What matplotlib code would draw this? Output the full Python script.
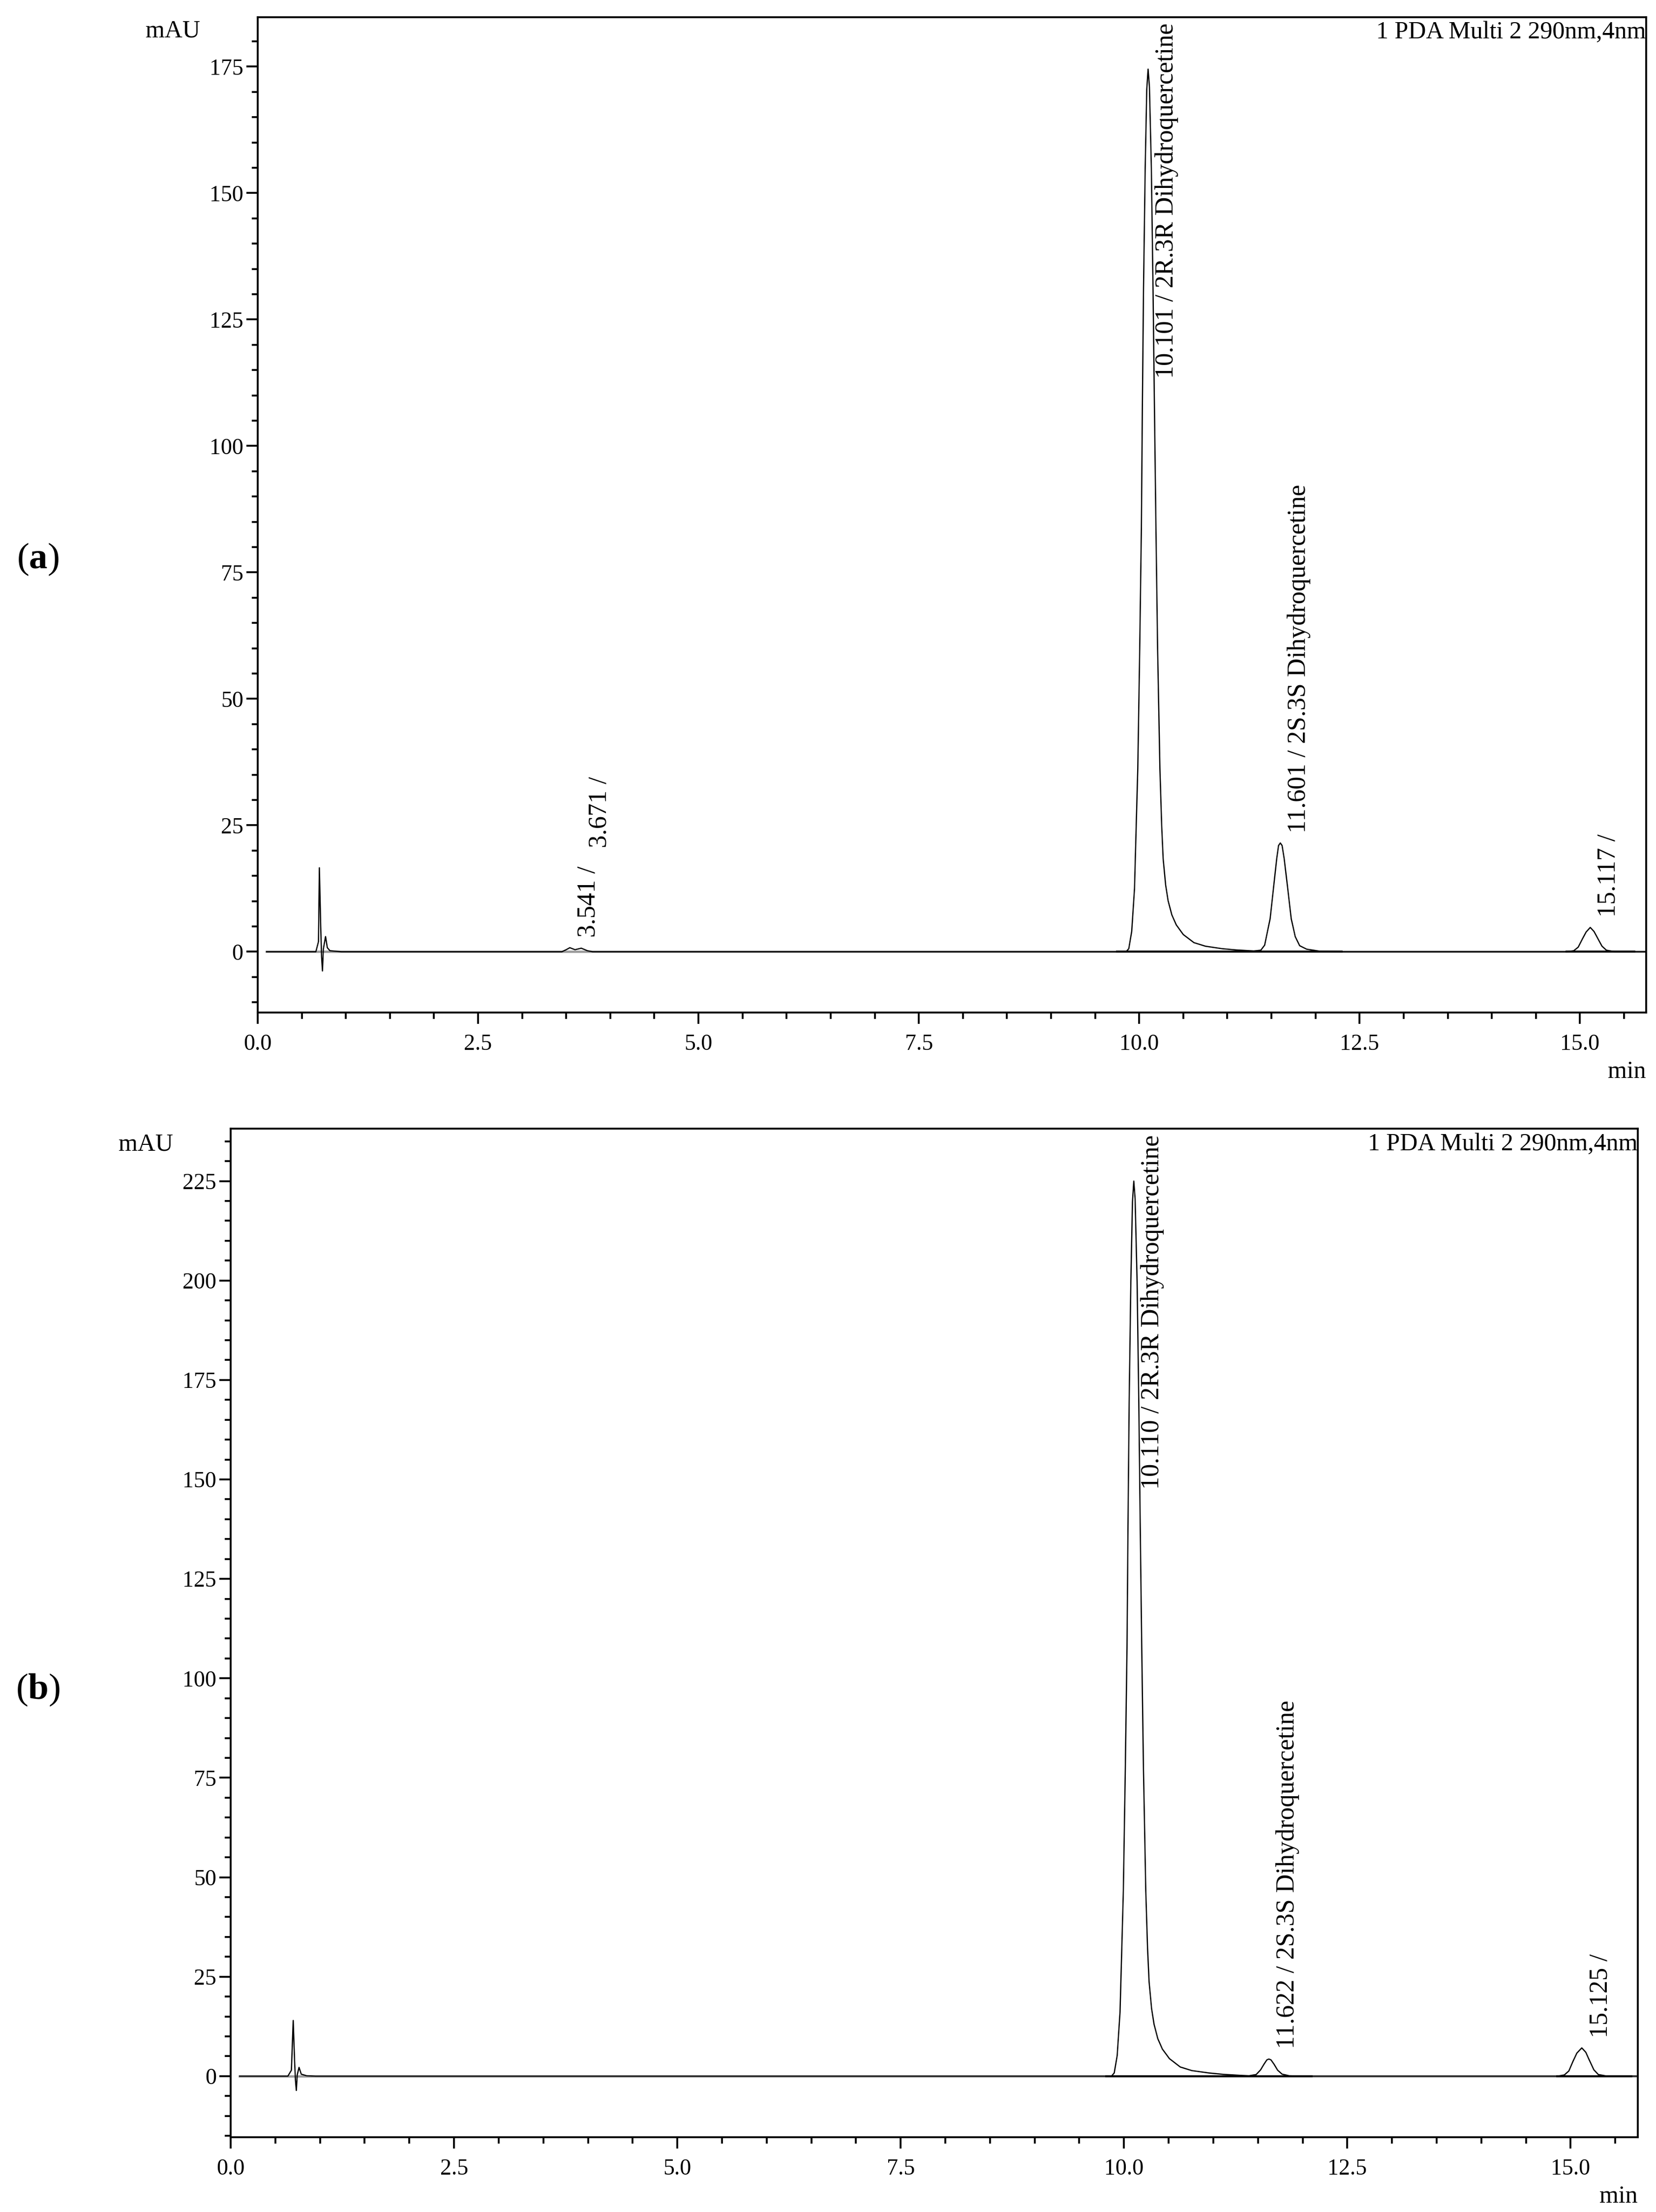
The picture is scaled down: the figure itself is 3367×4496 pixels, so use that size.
import matplotlib.pyplot as plt
from matplotlib.ticker import MultipleLocator

plt.rcParams["font.family"] = ["Liberation Serif", "DejaVu Serif"]
plt.rcParams["mathtext.fontset"] = "custom"
plt.rcParams["mathtext.rm"] = "Liberation Serif"
plt.rcParams["mathtext.bf"] = "Liberation Serif:bold"

# chromatogram (a): time [min], signal [mAU]
time_a = [0.10, 0.66, 0.69, 0.70, 0.715, 0.725, 0.735, 0.745, 0.77, 0.79, 0.82, 0.95,
          3.45, 3.50, 3.541, 3.60, 3.671, 3.74, 3.80,
          9.75, 9.851, 9.882, 9.915, 9.947, 9.984, 10.006, 10.025, 10.036, 10.049, 10.068,
          10.086, 10.101, 10.116, 10.138, 10.157, 10.173, 10.190, 10.209, 10.235, 10.255,
          10.272, 10.300, 10.328, 10.370, 10.421, 10.500, 10.621, 10.750, 10.941, 11.10,
          11.30,
          11.38, 11.423, 11.485, 11.523, 11.560, 11.581, 11.601, 11.621, 11.645, 11.685,
          11.725, 11.77, 11.82, 11.90, 12.05, 12.30,
          14.85, 14.93, 14.98, 15.03, 15.07, 15.117, 15.16, 15.20, 15.25, 15.30, 15.40, 15.75]
mau_a = [0.0, 0.0, 2.0, 16.6, 5.0, -1.0, -3.8, 0.5, 3.0, 0.8, 0.2, 0.0,
         0.0, 0.4, 0.8, 0.4, 0.7, 0.2, 0.0,
         0.0, 0.0, 0.6, 4.0, 12.5, 36.2, 59.9, 83.7, 107.4, 131.2, 154.9,
         170.5, 174.5, 171.0, 154.9, 131.2, 107.4, 83.7, 59.9, 36.2, 25.0,
         18.4, 13.2, 10.1, 7.3, 5.3, 3.4, 1.8, 1.1, 0.6, 0.35,
         0.15,
         0.3, 1.3, 6.5, 12.5, 18.4, 21.0, 21.5, 21.0, 18.4, 12.5,
         6.5, 3.0, 1.2, 0.5, 0.1, 0.0,
         0.0, 0.2, 0.9, 2.6, 3.9, 4.8, 4.0, 2.7, 1.1, 0.3, 0.0, 0.0]

# chromatogram (b)
time_b = [0.10, 0.64, 0.68, 0.70, 0.715, 0.725, 0.735, 0.745, 0.765, 0.79, 0.85, 0.95,
          9.80, 9.860, 9.891, 9.924, 9.956, 9.993, 10.015, 10.034, 10.045, 10.058, 10.077,
          10.095, 10.110, 10.125, 10.147, 10.166, 10.182, 10.199, 10.218, 10.244, 10.264,
          10.281, 10.309, 10.337, 10.379, 10.430, 10.509, 10.630, 10.759, 10.950, 11.11,
          11.30,
          11.40, 11.48, 11.53, 11.57, 11.60, 11.622, 11.645, 11.68, 11.72, 11.77, 11.85, 12.0,
          14.85, 14.93, 14.98, 15.03, 15.07, 15.125, 15.17, 15.21, 15.26, 15.31, 15.40, 15.75]
mau_b = [0.0, 0.0, 1.5, 14.0, 4.0, -1.0, -3.6, 0.3, 2.2, 0.5, 0.1, 0.0,
         0.0, 0.0, 0.8, 5.2, 16.1, 46.7, 77.2, 107.9, 138.5, 169.2, 199.7,
         219.8, 225.0, 220.5, 199.7, 169.2, 138.5, 107.9, 77.2, 46.7, 32.2,
         23.7, 17.0, 13.0, 9.4, 6.8, 4.4, 2.3, 1.4, 0.8, 0.45,
         0.2,
         0.1, 0.4, 1.6, 3.1, 4.1, 4.3, 4.1, 3.0, 1.5, 0.5, 0.1, 0.0,
         0.0, 0.3, 1.3, 3.9, 5.8, 7.1, 6.0, 4.0, 1.6, 0.4, 0.05, 0.0]

# integrated peaks
rt_a = [3.541, 3.671, 10.101, 11.601, 15.117]
height_a = [0.8, 0.7, 174.5, 21.5, 4.8]
name_a = ["", "", "2R.3R Dihydroquercetine", "2S.3S Dihydroquercetine", ""]

rt_b = [10.110, 11.622, 15.125]
height_b = [225.0, 4.3, 7.1]
name_b = ["2R.3R Dihydroquercetine", "2S.3S Dihydroquercetine", ""]

# integration baselines (start, end) [min]
base_a = [(9.75, 12.30), (14.85, 15.62)]
base_b = [(9.80, 12.10), (14.85, 15.68)]

channel = "1 PDA Multi 2 290nm,4nm"

fig = plt.figure(figsize=(3367 / 300, 4496 / 300), dpi=300)
ax_a = fig.add_axes([0.1556, 0.5423, 0.8384, 0.4500])
ax_b = fig.add_axes([0.1393, 0.0339, 0.8496, 0.4559])


def draw_trace(ax, t, y, bases, ylim):
    ax.plot([t[0], t[-1]], [0, 0], color="#9a9a9a", lw=1.1, zorder=1)
    for start, end in bases:
        ax.plot([start, end], [0, 0], color="black", lw=0.9, zorder=2)
    ax.plot(t, y, color="black", lw=0.6, zorder=3)
    ax.set_xlim(0, 15.75)
    ax.set_ylim(*ylim)
    ax.xaxis.set_major_locator(MultipleLocator(2.5))
    ax.xaxis.set_minor_locator(MultipleLocator(0.5))
    ax.yaxis.set_major_locator(MultipleLocator(25))
    ax.yaxis.set_minor_locator(MultipleLocator(5))
    ax.xaxis.set_major_formatter(lambda v, p: f"{v:.1f}")
    ax.tick_params(which="both", direction="out", width=0.9, labelsize=11)
    ax.tick_params(axis="x", which="major", length=5.5, pad=5)
    ax.tick_params(axis="y", which="major", length=5.5, pad=1.5)
    ax.tick_params(which="minor", length=3)
    for sp in ax.spines.values():
        sp.set_linewidth(0.9)
    ax.text(1.0, 0.996, channel, transform=ax.transAxes, ha="right", va="top",
            fontsize=12)


def label_peaks(ax, rts, heights, names):
    # peak labels sit right of the apex; tall ones hang from the top,
    # crowded ones are stacked above their neighbour
    fig.canvas.draw()
    renderer = fig.canvas.get_renderer()
    ymax = ax.get_ylim()[1]
    prev = None
    for rt, h, name in zip(rts, heights, names):
        txt = f"{rt:.3f} / {name}".rstrip()
        a = ax.annotate(txt, xy=(rt + 0.21, h), xytext=(0, 5), textcoords="offset points",
                        rotation=90, ha="center", va="bottom", fontsize=12.5)
        bb = a.get_window_extent(renderer)
        if prev is not None and bb.x0 < prev.x1 + prev.width:
            top = ax.transData.inverted().transform((0, prev.y1))[1]
            a.xy = (rt + 0.21, top)
            a.xyann = (0, 9)
            bb = a.get_window_extent(renderer)
        if bb.y1 > ax.transAxes.transform((0, 1))[1]:
            a.xy = (rt + 0.21, ymax)
            a.xyann = (0, -3)
            a.set_va("top")
            bb = a.get_window_extent(renderer)
        prev = bb


draw_trace(ax_a, time_a, mau_a, base_a, (-12.0, 184.8))
draw_trace(ax_b, time_b, mau_b, base_b, (-15.3, 238.2))
label_peaks(ax_a, rt_a, height_a, name_a)
label_peaks(ax_b, rt_b, height_b, name_b)

fig.text(0.1043, 0.9859, "mAU", ha="center", va="center", fontsize=12)
fig.text(0.0880, 0.4827, "mAU", ha="center", va="center", fontsize=12)
fig.text(0.994, 0.5154, "min", ha="right", va="center", fontsize=12)
fig.text(0.989, 0.0070, "min", ha="right", va="center", fontsize=12)
fig.text(0.023, 0.747, r"($\mathbf{a}$)", ha="center", va="center", fontsize=18)
fig.text(0.023, 0.236, r"($\mathbf{b}$)", ha="center", va="center", fontsize=18)

fig.savefig("out.png", dpi=300, facecolor="white")
